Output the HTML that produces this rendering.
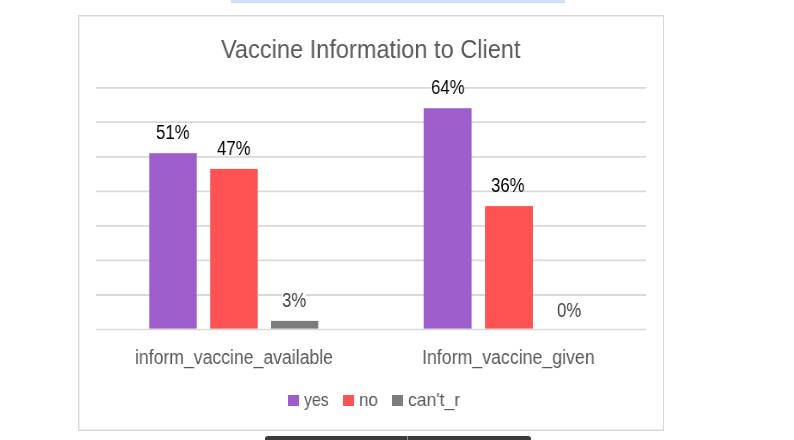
<!DOCTYPE html>
<html><head><meta charset="utf-8">
<style>
html,body{margin:0;padding:0;background:#fff;}
body{width:794px;height:440px;position:relative;overflow:hidden;font-family:"Liberation Sans",sans-serif;}
.a{position:absolute;}
.t{will-change:transform;position:absolute;white-space:nowrap;line-height:1;transform-origin:0 0;}
.g{position:absolute;left:96px;width:550px;height:1px;background:#d9d9d9;}
.bar{position:absolute;}
.lbl{will-change:transform;position:absolute;white-space:nowrap;line-height:1;height:15px;background:#fff;transform-origin:0 0;font-size:19.7px;color:#000;}
.cat{will-change:transform;position:absolute;white-space:nowrap;line-height:1;transform-origin:0 0;font-size:19.6px;color:#595959;}
.leg{will-change:transform;position:absolute;white-space:nowrap;line-height:1;transform-origin:0 0;font-size:18.5px;color:#595959;}
.sq{position:absolute;width:11px;height:11px;top:395.4px;}
</style></head><body>
<!-- top blue strip -->
<div class="a" style="left:231px;top:0;width:334px;height:3px;background:linear-gradient(#d0e3f8 0,#d0e3f8 2px,#c9dbee 2px,#c9dbee 3px);"></div>
<!-- chart frame, gridlines, bars -->
<svg class="a" style="left:0;top:0" width="794" height="440" viewBox="0 0 794 440">
<g stroke="#d9d9d9" fill="none">
<line x1="78" x2="664" y1="15.8" y2="15.8" stroke-width="1.4" stroke="#d8d7d3"/>
<line x1="78" x2="664" y1="430.2" y2="430.2" stroke-width="1.4"/>
<line x1="78.7" x2="78.7" y1="15" y2="431" stroke-width="1.4"/>
<line x1="663.5" x2="663.5" y1="15" y2="431" stroke-width="1.1"/>
</g>
<g stroke="#d9d9d9" stroke-width="1.8">
<line x1="96" x2="646" y1="87.9" y2="87.9"/>
<line x1="96" x2="646" y1="122.2" y2="122.2"/>
<line x1="96" x2="646" y1="156.8" y2="156.8"/>
<line x1="96" x2="646" y1="191.3" y2="191.3"/>
<line x1="96" x2="646" y1="225.9" y2="225.9"/>
<line x1="96" x2="646" y1="260.4" y2="260.4"/>
<line x1="96" x2="646" y1="295.0" y2="295.0"/>
<line x1="96" x2="646" y1="329.5" y2="329.5" stroke-width="1.5"/>
</g>
<rect x="149.3" y="153.2" width="47.4" height="175.4" fill="#9d5ecc"/>
<rect x="210.2" y="168.9" width="47.5" height="159.7" fill="#ff5252"/>
<rect x="271.0" y="320.9" width="47.3" height="7.7" fill="#7c7c7c"/>
<rect x="423.7" y="108.2" width="47.9" height="220.4" fill="#9d5ecc"/>
<rect x="485.1" y="206.1" width="47.9" height="122.5" fill="#ff5252"/>
</svg>

<!-- title -->
<div class="t" style="left:221px;top:36.5px;font-size:25.5px;color:#595959;transform:scaleX(0.924);">Vaccine Information to Client</div>

<!-- data labels -->
<div class="lbl" style="left:156px;top:123px;transform:scaleX(0.85);">51%</div>
<div class="lbl" style="left:217px;top:139px;transform:scaleX(0.85);">47%</div>
<div class="lbl" style="left:282px;top:291px;color:#404040;transform:scaleX(0.85);">3%</div>
<div class="lbl" style="left:431px;top:78px;transform:scaleX(0.85);">64%</div>
<div class="lbl" style="left:491px;top:176px;transform:scaleX(0.85);">36%</div>
<div class="lbl" style="left:557px;top:301px;color:#404040;transform:scaleX(0.85);">0%</div>

<!-- category labels -->
<div class="cat" style="left:135px;top:348px;transform:scaleX(0.90);">inform_vaccine_available</div>
<div class="cat" style="left:421.8px;top:348px;transform:scaleX(0.906);">Inform_vaccine_given</div>

<!-- legend -->
<div class="sq" style="left:288px;background:#9d5ecc;"></div>
<div class="leg" style="left:304px;top:391px;transform:scaleX(0.86);">yes</div>
<div class="sq" style="left:343px;background:#ff5252;"></div>
<div class="leg" style="left:359px;top:391px;transform:scaleX(0.92);">no</div>
<div class="sq" style="left:392px;background:#7c7c7c;"></div>
<div class="leg" style="left:408px;top:391px;transform:scaleX(0.95);">can't_r</div>

<!-- bottom dark tab -->
<div class="a" style="left:265px;top:436px;width:266px;height:6px;background:#3c3c3c;border-radius:3px 3px 0 0;"></div>
<div class="a" style="left:407px;top:436px;width:1px;height:4px;background:#8a8a8a;"></div>
</body></html>
